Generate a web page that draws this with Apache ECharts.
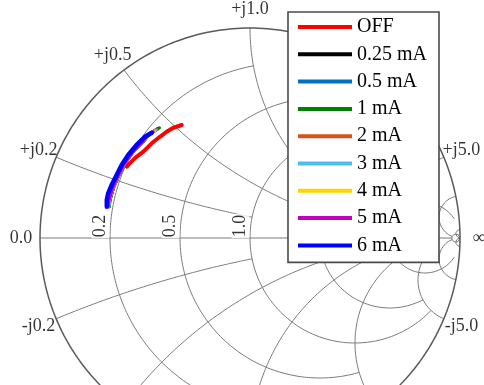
<!DOCTYPE html>
<html><head><meta charset="utf-8">
<script src="https://cdn.jsdelivr.net/npm/echarts@6/dist/echarts.min.js"></script>
<style>html,body{margin:0;padding:0;background:#fff}#c{width:484px;height:385px}</style>
</head><body><div id="c"></div>
<script>
// ---- series (reflection coefficient, [Re Γ, Im Γ]) ----
const seriesNames  = ['OFF','0.25 mA','0.5 mA','1 mA','2 mA','3 mA','4 mA','5 mA','6 mA'];
const seriesColors = ['#ff0000','#000000','#0072bd','#008000','#d95319','#4dbeee','#ffd500','#bf00bf','#0000ff'];
const gOFF  = [[-0.325,0.538],[-0.365,0.525],[-0.397,0.506],[-0.429,0.482],[-0.468,0.451],[-0.508,0.411],[-0.548,0.380],[-0.580,0.348],[-0.587,0.340]];
const g025  = [[-0.437,0.522],[-0.476,0.498],[-0.508,0.459],[-0.556,0.411],[-0.595,0.356],[-0.627,0.292],[-0.651,0.237],[-0.667,0.181],[-0.671,0.149]];
const g05   = [[-0.441,0.519],[-0.477,0.497],[-0.510,0.458],[-0.557,0.410],[-0.596,0.355],[-0.628,0.292],[-0.652,0.236],[-0.668,0.181],[-0.672,0.150]];
const g1    = [[-0.431,0.525],[-0.474,0.499],[-0.507,0.460],[-0.555,0.412],[-0.594,0.357],[-0.626,0.293],[-0.650,0.238],[-0.666,0.182],[-0.670,0.150]];
const g2    = [[-0.443,0.516],[-0.477,0.496],[-0.509,0.458],[-0.557,0.410],[-0.597,0.354],[-0.629,0.291],[-0.653,0.236],[-0.669,0.180],[-0.673,0.149]];
const g3    = [[-0.448,0.513],[-0.479,0.495],[-0.511,0.457],[-0.558,0.409],[-0.597,0.354],[-0.629,0.291],[-0.653,0.235],[-0.669,0.180],[-0.673,0.149]];
const g4    = [[-0.455,0.508],[-0.481,0.493],[-0.512,0.456],[-0.559,0.408],[-0.598,0.353],[-0.630,0.290],[-0.654,0.235],[-0.670,0.180],[-0.674,0.149]];
const g5    = [[-0.460,0.506],[-0.484,0.491],[-0.514,0.455],[-0.560,0.407],[-0.599,0.352],[-0.631,0.289],[-0.655,0.234],[-0.671,0.179],[-0.675,0.149]];
const g6    = [[-0.468,0.501],[-0.500,0.482],[-0.540,0.443],[-0.580,0.395],[-0.611,0.348],[-0.635,0.300],[-0.659,0.252],[-0.675,0.214],[-0.682,0.181],[-0.682,0.149]];
const seriesData = [gOFF,g025,g05,g1,g2,g3,g4,g5,g6];
const seriesWidths = [4,3,3,3,3,3,3,3,4.5];

// ---- Smith grid ticks ----
const realTicks  = [0.2, 0.5, 1.0, 2.0, 5.0];
const realLabels = ['0.2','0.5','1.0','2.0','5.0'];
const imagTicks  = [0.2, 0.5, 1.0, 2.0, 5.0];
const imagLabels = ['0.2','0.5','1.0','2.0','5.0'];
// fancy grid: each line ends where it meets a line of the other family
const realCircles = [[0.2,1],[0.5,2],[1,5],[2,5],[5,20],[50,Infinity]];
const imagArcs    = [[0.2,1],[0.5,2],[1,5],[2,5],[5,10],[10,50],[50,Infinity]];
const realAxisEnd = 50;

function z2g(r, x){ const a=r-1,c=r+1,den=c*c+x*x; return [(a*c+x*x)/den,(x*c-a*x)/den]; }
const N = 300;
function realCircle(r, xmax){
  const p = Math.atan(xmax===Infinity?1e7:xmax), pts=[];
  for(let i=0;i<=N;i++){ const ph=-p+2*p*i/N; pts.push(z2g(r,Math.tan(ph))); }
  return pts;
}
function imagArc(x, rmax){
  const p = Math.atan(rmax===Infinity?1e7:rmax), pts=[];
  for(let i=0;i<=N;i++){ pts.push(z2g(Math.tan(p*i/N),x)); }
  return pts;
}
const gridColor='#7a7a7a';
const series=[];
function gridLine(pts,color,w){
  series.push({type:'line',data:pts,showSymbol:false,silent:true,animation:false,z:1,
    lineStyle:{color:color,width:w},itemStyle:{color:color},emphasis:{disabled:true}});
}
realCircles.forEach(([r,xm])=>gridLine(realCircle(r,xm),gridColor,1));
imagArcs.forEach(([x,rm])=>{gridLine(imagArc(x,rm),gridColor,1);gridLine(imagArc(-x,rm),gridColor,1);});
gridLine([[-1,0],z2g(realAxisEnd,0)],gridColor,1);
gridLine(realCircle(0,Infinity),'#5a5a5a',1.5);

// labels
const PX=210; // pixels per unit Γ (layout)
const lblFont={fontFamily:'Liberation Serif',fontSize:18,color:'#000'};
const lblData=[];
function circLabel(x,text){
  const g = x===Infinity?[1,0]:z2g(0,x); const k=1+19/PX;
  lblData.push({value:[g[0]*k,g[1]*k],label:{formatter:text,align:'center',verticalAlign:'middle'}});
}
circLabel(0,'0.0');
imagTicks.forEach((x,i)=>{circLabel(x,'+j'+imagLabels[i]);circLabel(-x,'-j'+imagLabels[i]);});
circLabel(Infinity,'\u221E');
realTicks.forEach((r,i)=>{
  const g=z2g(r,0);
  lblData.push({value:[g[0]-9.5/PX,12/PX],label:{formatter:realLabels[i],rotate:90,align:'center',verticalAlign:'middle',
    backgroundColor:'#fff',padding:[0,1,0,1]}});
});
series.push({type:'scatter',data:lblData,symbolSize:0,silent:true,z:3,animation:false,
  label:Object.assign({show:true,position:'inside'},lblFont)});

seriesNames.forEach((n,i)=>{
  series.push({name:n,type:'line',data:seriesData[i],showSymbol:false,animation:false,z:4,
    color:seriesColors[i],lineStyle:{color:seriesColors[i],width:seriesWidths[i],cap:'round',join:'round'},
    emphasis:{disabled:true}});
});

const chart=echarts.init(document.getElementById('c'),null,{renderer:'canvas'});
chart.setOption({
  animation:false,
  grid:{left:0,right:0,top:0,bottom:0,containLabel:false},
  xAxis:{type:'value',min:-250/PX,max:234/PX,show:false},
  yAxis:{type:'value',min:-147/PX,max:238/PX,show:false},
  legend:{orient:'vertical',left:288,top:12,padding:[5,12,7,10],itemWidth:54,itemHeight:4,itemGap:7.3,
    icon:'rect',backgroundColor:'#fff',borderColor:'#4a4a4a',borderWidth:1.6,z:10,
    selectedMode:false,
    textStyle:{fontFamily:'Liberation Serif',fontSize:20,color:'#000',lineHeight:20},
    data:seriesNames},
  series:series
});
</script></body></html>
